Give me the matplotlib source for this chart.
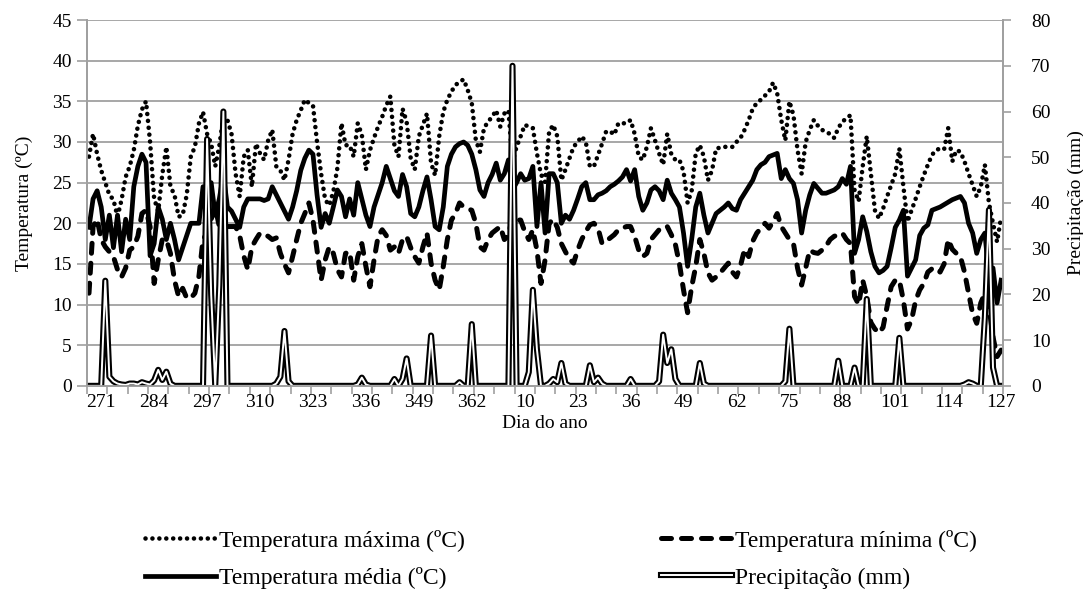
import matplotlib
matplotlib.use("Agg")
import matplotlib.pyplot as plt
import matplotlib.patheffects as pe
import numpy as np

plt.rcParams['font.family'] = ['Liberation Serif', 'DejaVu Serif']

# days of year, 268..365 then 1..127
days = list(range(268, 366)) + list(range(1, 128))

t_max = [28.2, 31.0, 28.5, 26.5, 25.0, 23.5, 22.9, 20.8, 22.9, 25.7,
         27.0, 29.0, 32.0, 34.0, 35.0, 30.0, 23.0, 21.5, 26.0, 29.4,
         24.5, 23.5, 20.8, 21.0, 23.5, 28.2, 29.4, 32.3, 33.7, 31.0,
         29.8, 27.0, 29.5, 33.1, 32.7, 31.0, 26.1, 23.3, 28.2, 29.0,
         24.5, 29.8, 28.6, 27.8, 30.2, 31.5, 27.0, 26.5, 25.3, 27.8,
         31.0, 32.7, 33.9, 35.2, 34.8, 34.5, 30.0, 26.1, 22.9, 22.2,
         23.9, 26.8, 32.3, 29.6, 29.6, 28.2, 32.3, 30.9, 26.6, 29.0,
         30.5, 31.9, 33.1, 34.5, 35.6, 29.6, 28.2, 34.1, 32.5, 28.0,
         26.6, 30.7, 32.1, 33.5, 27.4, 25.9, 30.7, 33.7, 35.2, 36.2,
         37.0, 37.4, 37.7, 36.4, 34.8, 30.2, 28.8, 31.7, 32.5, 33.1,
         33.9, 31.9, 33.5, 33.9, 27.6, 29.4, 30.7, 32.1, 31.9, 31.7,
         28.6, 26.0, 25.1, 31.3, 32.1, 30.7, 25.3, 26.6, 28.0, 29.4,
         30.0, 30.7, 30.0, 27.0, 27.0, 28.4, 29.8, 31.3, 31.3, 30.9,
         32.3, 32.3, 32.3, 32.7, 31.0, 28.2, 27.8, 29.4, 31.7, 30.2,
         28.6, 27.2, 31.0, 28.5, 27.8, 27.8, 26.4, 22.5, 24.0, 28.6,
         29.6, 28.2, 25.3, 26.5, 29.2, 29.3, 29.4, 29.4, 29.4, 30.0,
         30.5, 31.5, 32.7, 34.1, 34.8, 35.2, 35.7, 36.2, 37.3, 36.0,
         32.7, 30.2, 35.0, 33.3, 29.0, 26.1, 30.0, 31.5, 32.7, 32.0,
         31.5, 31.2, 31.0, 30.5, 31.7, 32.5, 32.9, 33.3, 24.1, 22.7,
         27.0, 30.7, 26.1, 21.6, 20.6, 21.8, 23.3, 24.7, 26.1, 29.2,
         24.5, 20.2, 21.6, 23.0, 24.5, 25.9, 27.2, 28.4, 29.0, 29.2,
         29.1, 31.7, 27.6, 29.0, 28.8, 27.6, 26.1, 24.7, 23.3, 24.5,
         27.2, 22.5, 20.0, 17.7, 20.8]

t_min = [11.4, 19.6, 20.5, 18.0, 17.1, 16.5, 15.9, 14.3, 13.4, 14.5,
         16.7, 17.1, 18.4, 21.2, 21.6, 19.6, 12.6, 15.5, 18.0, 18.0,
         16.3, 13.0, 11.0, 12.0, 10.8, 10.8, 11.4, 13.5, 18.0, 18.8,
         20.5, 22.0, 19.6, 18.0, 19.6, 19.6, 19.6, 18.5, 16.0, 14.3,
         17.1, 18.0, 18.8, 18.6, 18.4, 18.0, 18.2, 16.3, 15.0, 13.9,
         15.9, 18.0, 20.0, 21.2, 22.5, 20.4, 16.7, 13.0, 15.5, 17.1,
         16.3, 14.3, 13.4, 16.3, 16.5, 13.0, 15.9, 17.5, 14.7, 12.2,
         15.5, 18.4, 19.2, 18.5, 16.7, 17.1, 16.3, 18.0, 18.4, 17.0,
         15.9, 15.1, 17.1, 18.8, 15.1, 13.0, 11.8, 14.7, 18.0, 20.4,
         21.2, 22.5, 22.0, 21.8, 21.6, 20.0, 17.1, 16.7, 18.0, 18.8,
         19.2, 19.6, 18.0, 18.5, 20.8, 20.4, 20.4, 19.0, 18.0, 19.2,
         16.7, 12.6, 15.5, 20.0, 20.5, 19.5, 17.5, 16.5, 15.6, 15.1,
         16.7, 18.0, 19.0, 19.8, 20.0, 19.4, 17.5, 17.8, 18.2, 18.6,
         19.2, 19.4, 19.6, 19.6, 18.4, 16.7, 15.9, 16.3, 18.0, 18.6,
         19.2, 19.6, 19.6, 18.6, 17.4, 15.0, 11.8, 9.0, 12.2, 14.7,
         18.0, 16.3, 13.9, 13.0, 13.4, 13.9, 14.5, 15.1, 14.0, 13.4,
         14.8, 16.8, 15.9, 17.8, 18.8, 19.4, 20.0, 19.4, 20.2, 21.2,
         19.6, 18.8, 18.0, 17.5, 14.5, 12.4, 14.5, 16.7, 16.4, 16.3,
         16.7, 17.2, 18.0, 18.4, 18.6, 18.8, 18.0, 17.5, 11.0, 10.0,
         13.0, 11.0, 7.8, 7.0, 6.5, 7.2, 9.8, 12.2, 13.0, 13.0,
         10.5, 7.0, 8.1, 10.5, 11.8, 12.6, 14.0, 14.4, 14.5, 14.0,
         15.0, 18.0, 16.8, 16.3, 15.9, 14.0, 11.4, 8.9, 7.7, 10.2,
         11.4, 9.8, 6.0, 3.6, 4.4]

t_med = [19.5, 23.0, 24.0, 22.0, 18.0, 21.0, 17.0, 21.0, 16.5, 20.5,
         18.0, 24.5, 27.0, 28.5, 27.5, 16.0, 17.5, 22.0, 20.5, 18.0,
         20.0, 18.0, 15.5, 17.0, 18.5, 20.0, 20.0, 20.0, 24.5, 22.5,
         25.0, 21.0, 23.0, 26.0, 22.0, 21.5, 20.5, 19.5, 22.0, 23.0,
         23.0, 23.0, 23.0, 22.8, 23.0, 24.5, 23.5, 22.5, 21.5, 20.5,
         22.0, 24.0, 26.5, 28.0, 29.0, 28.5, 23.5, 19.5, 21.2, 20.0,
         22.0, 24.1, 23.3, 20.8, 23.0, 21.0, 25.0, 23.0, 21.0, 19.6,
         22.0, 23.5, 25.0, 27.0, 25.5, 24.0, 23.3, 26.0, 24.5, 21.2,
         20.8, 22.0, 24.0, 25.7, 22.9, 19.6, 19.2, 22.0, 27.0, 28.5,
         29.4, 29.8, 30.0, 29.6, 28.5, 26.6, 24.1, 23.3, 25.0, 26.0,
         27.4, 25.3, 26.1, 27.8, 24.1, 25.0, 26.1, 25.3, 25.5, 27.0,
         19.6, 25.0, 18.8, 26.1, 26.1, 25.0, 20.0, 21.0, 20.5, 21.6,
         23.0, 24.5, 25.0, 22.9, 22.9, 23.5, 23.7, 24.0, 24.5, 24.8,
         25.2, 25.7, 26.6, 25.2, 26.6, 23.3, 21.6, 22.5, 24.1, 24.5,
         24.0, 22.9, 25.3, 23.7, 22.9, 22.0, 18.8, 14.7, 18.0, 22.0,
         23.7, 21.0, 18.8, 20.0, 21.2, 21.6, 22.0, 22.5, 21.8, 21.6,
         22.9, 23.7, 24.5, 25.3, 26.6, 27.2, 27.5, 28.2, 28.4, 28.6,
         25.5, 26.6, 25.5, 24.9, 22.9, 18.8, 21.6, 23.5, 24.9, 24.3,
         23.7, 23.7, 23.9, 24.1, 24.5, 25.5, 24.8, 27.0, 16.3, 18.0,
         20.8, 19.0, 16.5, 14.7, 13.9, 14.2, 14.7, 17.0, 19.5, 20.4,
         21.6, 13.5, 14.5, 15.5, 18.5, 19.4, 19.8, 21.6, 21.8, 22.0,
         22.3, 22.6, 22.9, 23.1, 23.3, 22.5, 20.0, 18.8, 16.3, 18.0,
         18.8, 13.5, 14.5, 10.2, 13.0]

precip = [0, 0, 0, 0, 23.0, 2.0, 1.0, 0.5, 0.3, 0.2,
          0.5, 0.5, 0.3, 0.8, 0.5, 0.3, 1.2, 3.5, 1.3, 3.1,
          0.5, 0, 0, 0, 0, 0, 0, 0, 0, 54.0,
          20.0, 0, 22.0, 60.0, 0, 0, 0, 0, 0, 0,
          0, 0, 0, 0, 0, 0, 0.5, 2.0, 12.0, 1.0,
          0, 0, 0, 0, 0, 0, 0, 0, 0, 0,
          0, 0, 0, 0, 0, 0, 0.3, 1.8, 0.3, 0,
          0, 0, 0, 0, 0, 1.5, 0, 1.5, 6.0, 0,
          0, 0, 0, 0, 11.0, 0, 0, 0, 0, 0,
          0, 0.8, 0, 0, 13.5, 0, 0, 0, 0, 0,
          0, 0, 0, 0, 70.0, 0, 0, 0, 3.0, 21.0,
          8.0, 0, 0, 0.5, 1.5, 0.8, 5.0, 0.5, 0, 0,
          0, 0, 0, 4.5, 0.8, 1.8, 0.5, 0, 0, 0,
          0, 0, 0, 1.5, 0, 0, 0, 0, 0, 0,
          1.0, 11.2, 5.0, 8.0, 1.5, 0, 0, 0, 0, 0,
          5.0, 0.5, 0, 0, 0, 0, 0, 0, 0, 0,
          0, 0, 0, 0, 0, 0, 0, 0, 0, 0,
          0, 1.0, 12.5, 0, 0, 0, 0, 0, 0, 0,
          0, 0, 0, 0, 5.5, 0, 0, 0, 4.0, 0,
          0, 19.0, 0, 0, 0, 0, 0, 0, 0, 10.5,
          0, 0, 0, 0, 0, 0, 0, 0, 0, 0,
          0, 0, 0, 0, 0, 0.3, 0.8, 0.5, 0, 0,
          15.0, 38.5, 4.0, 0, 0]

x = np.arange(len(days))
grey = '#a0a0a0'

fig = plt.figure(figsize=(10.83, 5.90), dpi=100)
ax = fig.add_axes([0.0803, 0.346, 0.846, 0.620])
ax2 = ax.twinx()

ax.plot(x, t_max, color='black', lw=3.3, ls=(0, (0.01, 1.5)),
        dash_capstyle='round', label='Temperatura máxima (ºC)', zorder=3)
ax.plot(x, t_min, color='black', lw=3.6, ls=(0, (2.0, 2.0)),
        dash_capstyle='round', label='Temperatura mínima (ºC)', zorder=3)
ax.plot(x, t_med, color='black', lw=3.4, label='Temperatura média (ºC)',
        zorder=3)
ax2.plot(x, precip, color='white', lw=1.4, label='Precipitação (mm)',
         path_effects=[pe.Stroke(linewidth=4.4, foreground='black'),
                       pe.Normal()])

ax.set_xlim(-0.5, len(days) - 0.5)
ax.set_ylim(0, 45)
ax.set_yticks(np.arange(0, 46, 5))
ax2.set_ylim(0, 80)
ax2.set_yticks(np.arange(0, 81, 10))
ax.yaxis.grid(True, color=grey, lw=1.3)
ax.set_axisbelow(True)

# labels every 13 days, tick marks every 5 categories
lab_pos = [i for i in x if (i - 3) % 13 == 0]
ax.set_xticks(lab_pos)
ax.set_xticklabels([str(days[i]) for i in lab_pos])
ax.set_xticks(np.arange(-0.5, len(days), 5), minor=True)
ax.tick_params(axis='x', which='major', length=0, pad=6, labelsize=14)
ax.tick_params(axis='x', which='minor', length=6, color=grey, width=1.2)
ax.tick_params(axis='y', length=7, color=grey, width=1.2, labelsize=14, pad=4)
ax2.tick_params(axis='y', length=6, color=grey, width=1.2, labelsize=14, pad=14)

for a in (ax, ax2):
    a.spines['top'].set_visible(False)
    for s in ('left', 'right', 'bottom'):
        a.spines[s].set_color(grey)
        a.spines[s].set_linewidth(1.3)

ax.set_xlabel('Dia do ano', fontsize=14, labelpad=3)
ax.set_ylabel('Temperatura (ºC)', fontsize=14, labelpad=14)
ax2.set_ylabel('Precipitação (mm)', fontsize=14, labelpad=12)

h1, l1 = ax.get_legend_handles_labels()
h2, l2 = ax2.get_legend_handles_labels()
handles = [h1[0], h1[2], h1[1], h2[0]]
labels = [l1[0], l1[2], l1[1], l2[0]]
fig.legend(handles, labels, ncol=2, loc='center', bbox_to_anchor=(0.518, 0.052),
           frameon=False, fontsize=17, handlelength=3.0, handletextpad=0.15,
           columnspacing=8.3, labelspacing=0.65)

fig.savefig('out.png', dpi=100)
